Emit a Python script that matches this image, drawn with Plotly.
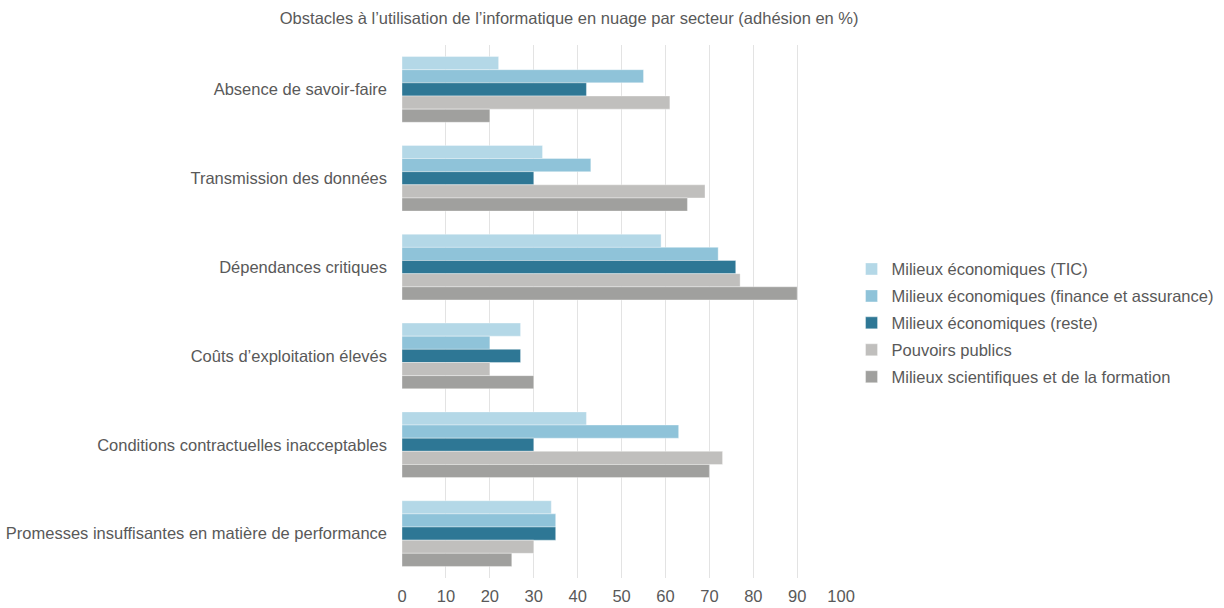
import plotly.graph_objects as go

categories = [
    "Absence de savoir-faire",
    "Transmission des données",
    "Dépendances critiques",
    "Coûts d’exploitation élevés",
    "Conditions contractuelles inacceptables",
    "Promesses insuffisantes en matière de performance",
]

series_names = [
    "Milieux économiques (TIC)",
    "Milieux économiques (finance et assurance)",
    "Milieux économiques (reste)",
    "Pouvoirs publics",
    "Milieux scientifiques et de la formation",
]

tic = [22, 32, 59, 27, 42, 34]
finance = [55, 43, 72, 20, 63, 35]
reste = [42, 30, 76, 27, 30, 35]
pouvoirs = [61, 69, 77, 20, 73, 30]
scientifiques = [20, 65, 90, 30, 70, 25]

colors = ["#b4d8e7", "#8fc3d9", "#2e7795", "#c0bfbd", "#a0a09e"]
tick_vals = list(range(0, 101, 10))

font_family = "Liberation Sans, Arial, sans-serif"
text_color = "#595959"

fig = go.Figure()
for i, (name, vals, col) in enumerate(zip(series_names, [tic, finance, reste, pouvoirs, scientifiques], colors)):
    fig.add_trace(go.Bar(
        y=categories, x=vals, name=name, orientation="h",
        legendgroup=f"g{i}",
        marker=dict(color=col, line=dict(color="rgba(255,255,255,0.6)", width=0.6)),
    ))

fig.update_layout(
    width=1224, height=608,
    barmode="group", bargap=0.26, bargroupgap=0,
    plot_bgcolor="white", paper_bgcolor="white",
    margin=dict(l=402, r=382, t=45, b=30, autoexpand=False),
    font=dict(family=font_family, color=text_color, size=16.5),
    title=dict(
        text="Obstacles à l’utilisation de l’informatique en nuage par secteur (adhésion en %)",
        x=0.465, xanchor="center", y=0.97, yanchor="middle",
        font=dict(size=16.5, color=text_color),
    ),
    legend=dict(
        xref="container", x=0.6957, xanchor="left",
        y=0.478, yanchor="middle",
        font=dict(size=16.5, color=text_color),
        traceorder="grouped", itemwidth=30, tracegroupgap=2.5,
        bgcolor="rgba(0,0,0,0)",
    ),
    xaxis=dict(
        range=[0, 100.2], tickvals=tick_vals, showgrid=True,
        gridcolor="#e3e3e3", gridwidth=1, zeroline=False,
        showline=False, ticks="", ticklabelstandoff=6,
        tickfont=dict(size=16.5, color=text_color),
        automargin=False, fixedrange=True,
    ),
    yaxis=dict(
        autorange="reversed", showgrid=False, showline=False,
        ticks="", ticklabelstandoff=14, automargin=False,
        tickfont=dict(size=16.5, color=text_color),
    ),
)

fig.write_html("out.html")
